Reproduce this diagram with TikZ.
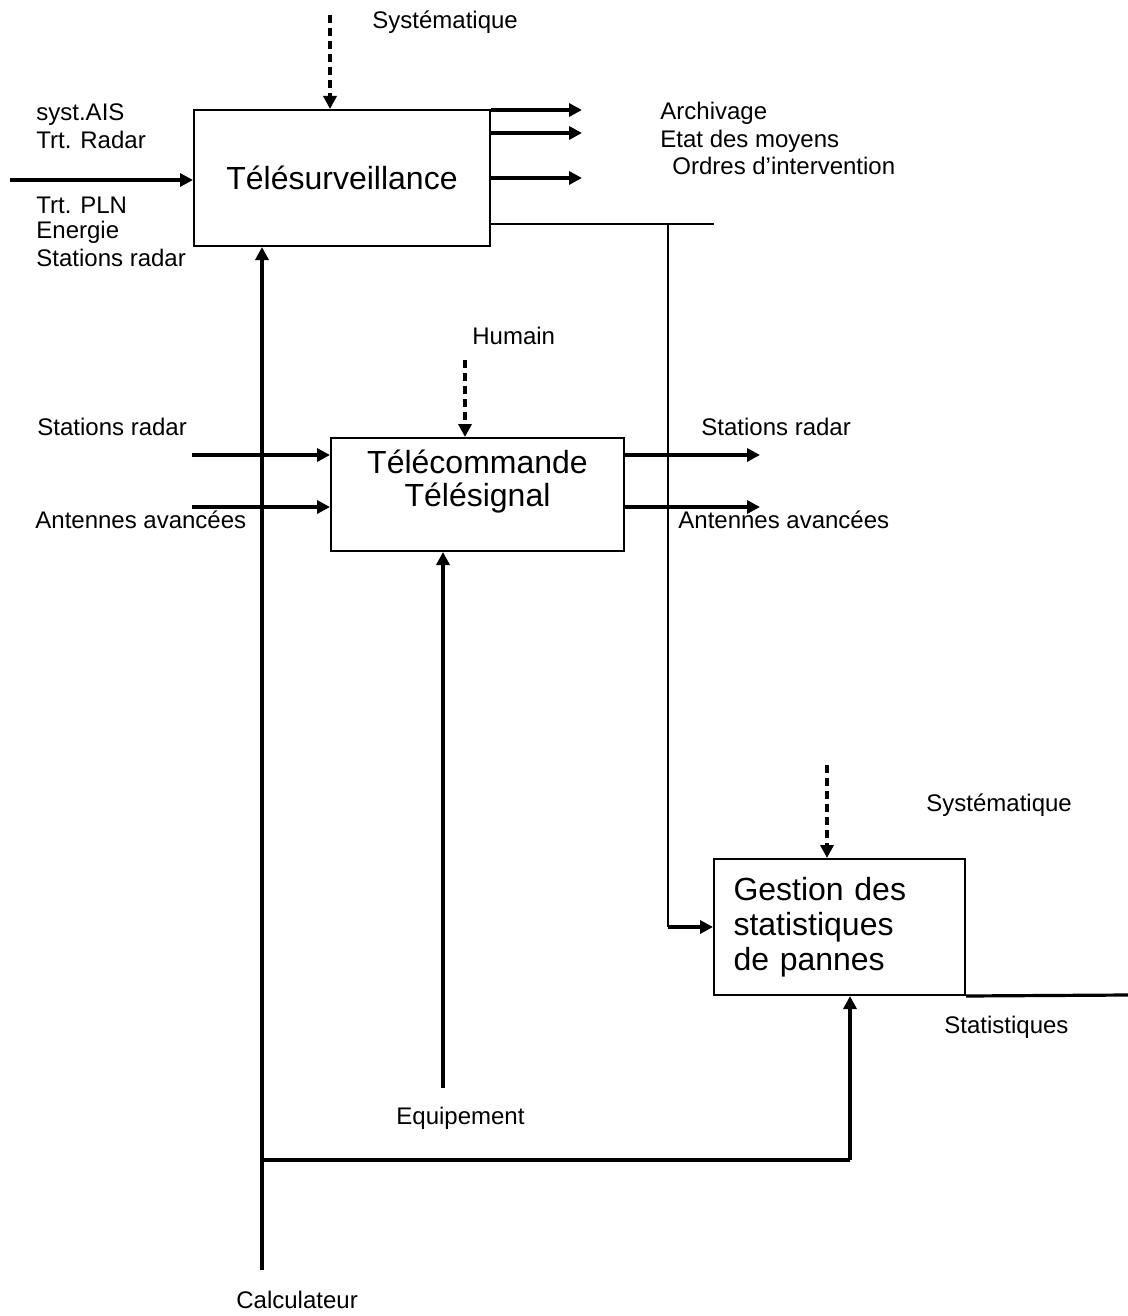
\documentclass[tikz,border=0pt]{standalone}
\usepackage{fontspec}
\setmainfont{Liberation Sans}
\usetikzlibrary{arrows.meta}
\begin{document}
\begin{tikzpicture}[x=0.5pt,y=-0.5pt,
  box/.style={draw,line width=1pt,rectangle,inner sep=0pt,font=\fontsize{16}{17.5}\selectfont},
  lbl/.style={anchor=west,inner sep=0pt,font=\fontsize{12}{14}\selectfont},
  flow/.style={line width=1.8pt,-{Triangle[length=6.5pt,width=6.5pt]}},
  ctrl/.style={line width=1.8pt,dash pattern=on 4pt off 2.5pt,-{Triangle[length=6.5pt,width=6.5pt]}},
  link/.style={line width=1pt},
  bar/.style={line width=1.6pt}]
\useasboundingbox (0,0) rectangle (1128,1316);

% activity boxes
\node[box,minimum width=148pt,minimum height=68pt] (b1) at (342,178) {Télésurveillance};
\node[box,minimum width=146.5pt,minimum height=56.5pt] (b2) at (477.5,494.5) {};
\node[inner sep=0pt,align=center,font=\fontsize{16}{16.5}\selectfont] (b2t) at ([yshift=6.5pt]b2.center) {Télécommande\\Télésignal};
\node[box,minimum width=125.5pt,minimum height=68pt,text width=106pt,align=left,inner xsep=9.5pt] (b3) at (839.5,927) {Gestion des\\statistiques\\de pannes};

% free ends of the connectors
\coordinate (s1) at (330,15);
\coordinate (in1) at (10,180);
\coordinate (o1) at (582,110);
\coordinate (o2) at (582,133);
\coordinate (o3) at (582,178);
\coordinate (t1) at (714,224);
\coordinate (j1) at (668,224);
\coordinate (h2) at (465,360);
\coordinate (i2a) at (192,455);
\coordinate (i2b) at (192,507);
\coordinate (o2a) at (760,455);
\coordinate (o2b) at (760,507);
\coordinate (eq) at (443,1088);
\coordinate (ca) at (262,1270);
\coordinate (cj) at (262,1160);
\coordinate (ck) at (850,1160);
\coordinate (s3) at (827,765);
\coordinate (st) at (1128,995);

% Télésurveillance
\draw[ctrl] (s1) -- (s1 |- b1.north);
\draw[flow] (in1) -- (in1 -| b1.west);
\draw[flow] (o1 -| b1.east) -- (o1);
\draw[flow] (o2 -| b1.east) -- (o2);
\draw[flow] (o3 -| b1.east) -- (o3);
\draw[link] (t1 -| b1.east) -- (t1);
\draw[link] (j1) -- (j1 |- b3.west);
\draw[flow] (j1 |- b3.west) -- (b3.west);

% Télécommande / Télésignal
\draw[ctrl] (h2) -- (h2 |- b2.north);
\draw[flow] (i2a) -- (i2a -| b2.west);
\draw[flow] (i2b) -- (i2b -| b2.west);
\draw[flow] (o2a -| b2.east) -- (o2a);
\draw[flow] (o2b -| b2.east) -- (o2b);
\draw[flow] (eq) -- (eq |- b2.south);

% Calculateur
\draw[flow] (ca) -- (ca |- b1.south);
\draw[bar] (cj) -- (ck);
\draw[flow] (ck) -- (ck |- b3.south);

% Gestion des statistiques
\draw[ctrl] (s3) -- (s3 |- b3.north);
\draw[bar] (b3.south east) -- (st);

% labels
\node[lbl] (l1) at (372,22) {Systématique};
\node[lbl] (l2) at (36,115) {syst.AIS};
\node[lbl] (l3) at (36,140) {Trt. Radar};
\node[lbl] (l4) at (36,205) {Trt. PLN};
\node[lbl] (l5) at (36,232) {Energie};
\node[lbl] (l6) at (36,258) {Stations radar};
\node[lbl] (l7) at (660,113) {Archivage};
\node[lbl] (l8) at (660,141) {Etat des moyens};
\node[lbl] (l9) at (672,166) {Ordres d’intervention};
\node[lbl] (l10) at (472,336) {Humain};
\node[lbl] (l11) at (37,427) {Stations radar};
\node[lbl] (l12) at (35,520) {Antennes avancées};
\node[lbl] (l13) at (701,427) {Stations radar};
\node[lbl] (l14) at (678,520) {Antennes avancées};
\node[lbl] (l15) at (926,805) {Systématique};
\node[lbl] (l16) at (944,1027) {Statistiques};
\node[lbl] (l17) at (396,1118) {Equipement};
\node[lbl] (l18) at (236,1300) {Calculateur};
\end{tikzpicture}
\end{document}
